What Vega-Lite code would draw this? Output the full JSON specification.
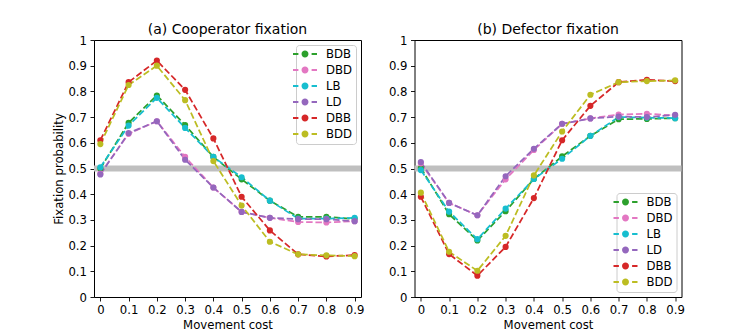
{
  "$schema": "https://vega.github.io/schema/vega-lite/v6.json",
  "background": "white",
  "padding": {"left": 53, "top": 22, "right": 5, "bottom": 5},
  "spacing": 22.5,
  "config": {
    "font": "DejaVu Sans",
    "view": {"stroke": "black", "strokeWidth": 1},
    "title": {"fontSize": 14, "fontWeight": "normal", "color": "black", "offset": -2},
    "axis": {
      "domain": false, "grid": false, "tickColor": "black", "tickSize": 4, "tickWidth": 0.9,
      "labelColor": "black", "labelFontSize": 11.7, "labelPadding": 3.5, "labelOverlap": false,
      "titleColor": "black", "titleFontSize": 11.7, "titleFontWeight": "normal", "titlePadding": 3
    },
    "legend": {
      "labelFontSize": 11.7, "labelColor": "black", "strokeColor": "#cccccc", "fillColor": "rgba(255,255,255,0.8)",
      "cornerRadius": 3, "padding": 3, "rowPadding": 3, "symbolSize": 144, "labelOffset": 15,
      "symbolType": "M-2.0,-0.146H-1.1V0.146H-2.0Z M1.1,-0.146H2.0V0.146H1.1Z M-0.58,0A0.58,0.58 0 1,0 0.58,0A0.58,0.58 0 1,0 -0.58,0Z"
    }
  },
  "resolve": {"legend": {"color": "independent"}},
  "data": {"values": [
    {"p":"a","c":0,"s":"BDB","v":0.5},{"p":"a","c":0.1,"s":"BDB","v":0.678},{"p":"a","c":0.2,"s":"BDB","v":0.784},{"p":"a","c":0.3,"s":"BDB","v":0.669},{"p":"a","c":0.4,"s":"BDB","v":0.545},{"p":"a","c":0.5,"s":"BDB","v":0.458},{"p":"a","c":0.6,"s":"BDB","v":0.375},{"p":"a","c":0.7,"s":"BDB","v":0.312},{"p":"a","c":0.8,"s":"BDB","v":0.312},{"p":"a","c":0.9,"s":"BDB","v":0.304},
    {"p":"a","c":0,"s":"DBD","v":0.48},{"p":"a","c":0.1,"s":"DBD","v":0.635},{"p":"a","c":0.2,"s":"DBD","v":0.684},{"p":"a","c":0.3,"s":"DBD","v":0.545},{"p":"a","c":0.4,"s":"DBD","v":0.426},{"p":"a","c":0.5,"s":"DBD","v":0.331},{"p":"a","c":0.6,"s":"DBD","v":0.308},{"p":"a","c":0.7,"s":"DBD","v":0.292},{"p":"a","c":0.8,"s":"DBD","v":0.29},{"p":"a","c":0.9,"s":"DBD","v":0.295},
    {"p":"a","c":0,"s":"LB","v":0.505},{"p":"a","c":0.1,"s":"LB","v":0.667},{"p":"a","c":0.2,"s":"LB","v":0.775},{"p":"a","c":0.3,"s":"LB","v":0.658},{"p":"a","c":0.4,"s":"LB","v":0.545},{"p":"a","c":0.5,"s":"LB","v":0.466},{"p":"a","c":0.6,"s":"LB","v":0.375},{"p":"a","c":0.7,"s":"LB","v":0.305},{"p":"a","c":0.8,"s":"LB","v":0.305},{"p":"a","c":0.9,"s":"LB","v":0.308},
    {"p":"a","c":0,"s":"LD","v":0.477},{"p":"a","c":0.1,"s":"LD","v":0.638},{"p":"a","c":0.2,"s":"LD","v":0.684},{"p":"a","c":0.3,"s":"LD","v":0.534},{"p":"a","c":0.4,"s":"LD","v":0.426},{"p":"a","c":0.5,"s":"LD","v":0.331},{"p":"a","c":0.6,"s":"LD","v":0.308},{"p":"a","c":0.7,"s":"LD","v":0.303},{"p":"a","c":0.8,"s":"LD","v":0.303},{"p":"a","c":0.9,"s":"LD","v":0.295},
    {"p":"a","c":0,"s":"DBB","v":0.61},{"p":"a","c":0.1,"s":"DBB","v":0.836},{"p":"a","c":0.2,"s":"DBB","v":0.92},{"p":"a","c":0.3,"s":"DBB","v":0.806},{"p":"a","c":0.4,"s":"DBB","v":0.617},{"p":"a","c":0.5,"s":"DBB","v":0.39},{"p":"a","c":0.6,"s":"DBB","v":0.259},{"p":"a","c":0.7,"s":"DBB","v":0.166},{"p":"a","c":0.8,"s":"DBB","v":0.158},{"p":"a","c":0.9,"s":"DBB","v":0.163},
    {"p":"a","c":0,"s":"BDD","v":0.595},{"p":"a","c":0.1,"s":"BDD","v":0.825},{"p":"a","c":0.2,"s":"BDD","v":0.9},{"p":"a","c":0.3,"s":"BDD","v":0.766},{"p":"a","c":0.4,"s":"BDD","v":0.529},{"p":"a","c":0.5,"s":"BDD","v":0.356},{"p":"a","c":0.6,"s":"BDD","v":0.215},{"p":"a","c":0.7,"s":"BDD","v":0.166},{"p":"a","c":0.8,"s":"BDD","v":0.162},{"p":"a","c":0.9,"s":"BDD","v":0.159},
    {"p":"b","c":0,"s":"BDB","v":0.502},{"p":"b","c":0.1,"s":"BDB","v":0.322},{"p":"b","c":0.2,"s":"BDB","v":0.22},{"p":"b","c":0.3,"s":"BDB","v":0.334},{"p":"b","c":0.4,"s":"BDB","v":0.459},{"p":"b","c":0.5,"s":"BDB","v":0.547},{"p":"b","c":0.6,"s":"BDB","v":0.627},{"p":"b","c":0.7,"s":"BDB","v":0.692},{"p":"b","c":0.8,"s":"BDB","v":0.693},{"p":"b","c":0.9,"s":"BDB","v":0.696},
    {"p":"b","c":0,"s":"DBD","v":0.52},{"p":"b","c":0.1,"s":"DBD","v":0.366},{"p":"b","c":0.2,"s":"DBD","v":0.318},{"p":"b","c":0.3,"s":"DBD","v":0.458},{"p":"b","c":0.4,"s":"DBD","v":0.572},{"p":"b","c":0.5,"s":"DBD","v":0.674},{"p":"b","c":0.6,"s":"DBD","v":0.695},{"p":"b","c":0.7,"s":"DBD","v":0.71},{"p":"b","c":0.8,"s":"DBD","v":0.713},{"p":"b","c":0.9,"s":"DBD","v":0.706},
    {"p":"b","c":0,"s":"LB","v":0.494},{"p":"b","c":0.1,"s":"LB","v":0.332},{"p":"b","c":0.2,"s":"LB","v":0.225},{"p":"b","c":0.3,"s":"LB","v":0.344},{"p":"b","c":0.4,"s":"LB","v":0.459},{"p":"b","c":0.5,"s":"LB","v":0.538},{"p":"b","c":0.6,"s":"LB","v":0.627},{"p":"b","c":0.7,"s":"LB","v":0.7},{"p":"b","c":0.8,"s":"LB","v":0.698},{"p":"b","c":0.9,"s":"LB","v":0.696},
    {"p":"b","c":0,"s":"LD","v":0.525},{"p":"b","c":0.1,"s":"LD","v":0.366},{"p":"b","c":0.2,"s":"LD","v":0.318},{"p":"b","c":0.3,"s":"LD","v":0.47},{"p":"b","c":0.4,"s":"LD","v":0.577},{"p":"b","c":0.5,"s":"LD","v":0.674},{"p":"b","c":0.6,"s":"LD","v":0.695},{"p":"b","c":0.7,"s":"LD","v":0.702},{"p":"b","c":0.8,"s":"LD","v":0.7},{"p":"b","c":0.9,"s":"LD","v":0.709},
    {"p":"b","c":0,"s":"DBB","v":0.39},{"p":"b","c":0.1,"s":"DBB","v":0.167},{"p":"b","c":0.2,"s":"DBB","v":0.083},{"p":"b","c":0.3,"s":"DBB","v":0.195},{"p":"b","c":0.4,"s":"DBB","v":0.385},{"p":"b","c":0.5,"s":"DBB","v":0.61},{"p":"b","c":0.6,"s":"DBB","v":0.744},{"p":"b","c":0.7,"s":"DBB","v":0.836},{"p":"b","c":0.8,"s":"DBB","v":0.845},{"p":"b","c":0.9,"s":"DBB","v":0.84},
    {"p":"b","c":0,"s":"BDD","v":0.406},{"p":"b","c":0.1,"s":"BDD","v":0.176},{"p":"b","c":0.2,"s":"BDD","v":0.102},{"p":"b","c":0.3,"s":"BDD","v":0.238},{"p":"b","c":0.4,"s":"BDD","v":0.473},{"p":"b","c":0.5,"s":"BDD","v":0.644},{"p":"b","c":0.6,"s":"BDD","v":0.787},{"p":"b","c":0.7,"s":"BDD","v":0.836},{"p":"b","c":0.8,"s":"BDD","v":0.84},{"p":"b","c":0.9,"s":"BDD","v":0.843}
  ]},
  "hconcat": [
    {
      "width": 267, "height": 257,
      "title": "(a) Cooperator fixation",
      "layer": [
        {
          "data": {"values": [{"v": 0.5}]},
          "mark": {"type": "rule", "color": "#bfbfbf", "strokeWidth": 6},
          "encoding": {"y": {"field": "v", "type": "quantitative", "scale": {"domain": [0, 1], "nice": false},
                             "axis": {"values": [0,0.1,0.2,0.3,0.4,0.5,0.6,0.7,0.8,0.9,1], "labelOverlap": false, "format": "~g", "title": "Fixation probability"}}}
        },
        {
          "transform": [{"filter": "datum.p == 'a'"}],
          "mark": {"type": "line", "strokeDash": [6.5, 2.8], "strokeWidth": 1.75},
          "encoding": {
            "x": {"field": "c", "type": "quantitative", "scale": {"domain": [-0.0225, 0.9225], "nice": false, "zero": false},
                  "axis": {"tickCount": 10, "values": [0,0.1,0.2,0.3,0.4,0.5,0.6,0.7,0.8,0.9], "format": "~g", "title": "Movement cost"}},
            "y": {"field": "v", "type": "quantitative", "scale": {"domain": [0, 1], "nice": false},
                  "axis": {"values": [0,0.1,0.2,0.3,0.4,0.5,0.6,0.7,0.8,0.9,1], "labelOverlap": false, "format": "~g", "title": "Fixation probability"}},
            "color": {"field": "s", "type": "nominal",
                      "scale": {"domain": ["BDB","DBD","LB","LD","DBB","BDD"], "range": ["#2ca02c","#e377c2","#17becf","#9467bd","#d62728","#bcbd22"]},
                      "legend": {"title": null, "orient": "top-right", "offset": 5,
                                 "encode": {"symbols": {"update": {"fill": {"scale": "color", "field": "value"}, "strokeWidth": {"value": 0}, "opacity": {"value": 1}}}}}}
          }
        },
        {
          "transform": [{"filter": "datum.p == 'a'"}],
          "mark": {"type": "point", "filled": true, "opacity": 1, "size": 38},
          "encoding": {
            "x": {"field": "c", "type": "quantitative",
                  "axis": {"tickCount": 10, "values": [0,0.1,0.2,0.3,0.4,0.5,0.6,0.7,0.8,0.9], "format": "~g", "title": "Movement cost"}},
            "y": {"field": "v", "type": "quantitative",
                  "axis": {"values": [0,0.1,0.2,0.3,0.4,0.5,0.6,0.7,0.8,0.9,1], "labelOverlap": false, "format": "~g", "title": "Fixation probability"}},
            "color": {"field": "s", "type": "nominal"}
          }
        }
      ]
    },
    {
      "width": 267, "height": 257,
      "title": "(b) Defector fixation",
      "layer": [
        {
          "data": {"values": [{"v": 0.5}]},
          "mark": {"type": "rule", "color": "#bfbfbf", "strokeWidth": 6},
          "encoding": {"y": {"field": "v", "type": "quantitative", "scale": {"domain": [0, 1], "nice": false},
                             "axis": {"values": [0,0.1,0.2,0.3,0.4,0.5,0.6,0.7,0.8,0.9,1], "labelOverlap": false, "format": "~g", "title": null}}}
        },
        {
          "transform": [{"filter": "datum.p == 'b'"}],
          "mark": {"type": "line", "strokeDash": [6.5, 2.8], "strokeWidth": 1.75},
          "encoding": {
            "x": {"field": "c", "type": "quantitative", "scale": {"domain": [-0.0225, 0.9225], "nice": false, "zero": false},
                  "axis": {"tickCount": 10, "values": [0,0.1,0.2,0.3,0.4,0.5,0.6,0.7,0.8,0.9], "format": "~g", "title": "Movement cost"}},
            "y": {"field": "v", "type": "quantitative", "scale": {"domain": [0, 1], "nice": false},
                  "axis": {"values": [0,0.1,0.2,0.3,0.4,0.5,0.6,0.7,0.8,0.9,1], "labelOverlap": false, "format": "~g", "title": null}},
            "color": {"field": "s", "type": "nominal",
                      "scale": {"domain": ["BDB","DBD","LB","LD","DBB","BDD"], "range": ["#2ca02c","#e377c2","#17becf","#9467bd","#d62728","#bcbd22"]},
                      "legend": {"title": null, "orient": "bottom-right", "offset": 5,
                                 "encode": {"symbols": {"update": {"fill": {"scale": "color", "field": "value"}, "strokeWidth": {"value": 0}, "opacity": {"value": 1}}}}}}
          }
        },
        {
          "transform": [{"filter": "datum.p == 'b'"}],
          "mark": {"type": "point", "filled": true, "opacity": 1, "size": 38},
          "encoding": {
            "x": {"field": "c", "type": "quantitative",
                  "axis": {"tickCount": 10, "values": [0,0.1,0.2,0.3,0.4,0.5,0.6,0.7,0.8,0.9], "format": "~g", "title": "Movement cost"}},
            "y": {"field": "v", "type": "quantitative",
                  "axis": {"values": [0,0.1,0.2,0.3,0.4,0.5,0.6,0.7,0.8,0.9,1], "labelOverlap": false, "format": "~g", "title": null}},
            "color": {"field": "s", "type": "nominal"}
          }
        }
      ]
    }
  ]
}
